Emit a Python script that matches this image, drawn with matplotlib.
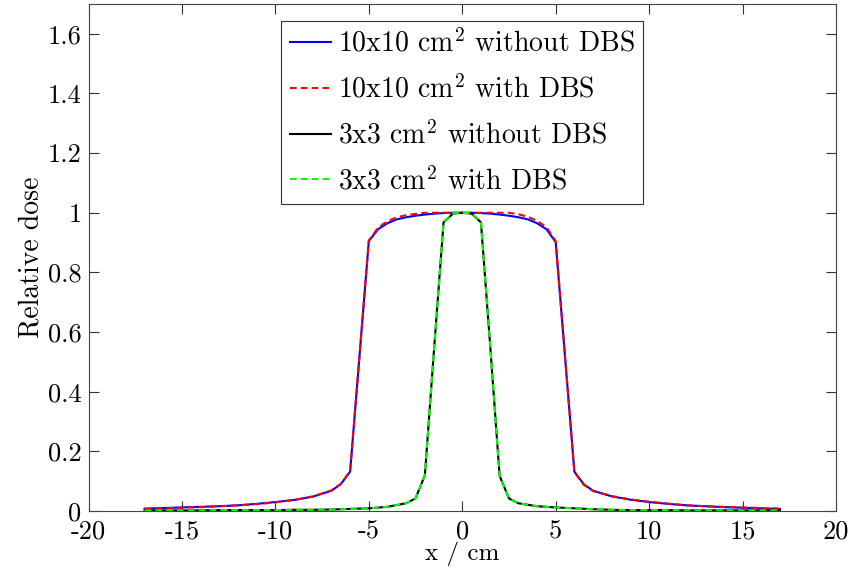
import matplotlib
matplotlib.use("Agg")
import matplotlib.pyplot as plt

plt.rcParams['font.family'] = ['cmr10', 'DejaVu Serif']
plt.rcParams['mathtext.fontset'] = 'cm'
plt.rcParams['axes.unicode_minus'] = False
plt.rcParams['axes.formatter.use_mathtext'] = False

# Lateral profiles, 10x10 cm^2 field
x_large = [-17, -16, -15, -14, -13, -12, -11, -10, -9, -8, -7, -6.5, -6, -5, -4.5, -4,
           -3.5, -3, -2.5, -2, -1.5, -1, -0.5, 0, 0.5, 1, 1.5, 2, 2.5, 3, 3.5, 4, 4.5,
           5, 6, 6.5, 7, 8, 9, 10, 11, 12, 13, 14, 15, 16, 17]
large_no_dbs = [0.008, 0.010, 0.012, 0.014, 0.016, 0.019, 0.024, 0.030, 0.037, 0.048,
                0.068, 0.090, 0.132, 0.905, 0.945, 0.965, 0.978, 0.985, 0.990, 0.994,
                0.997, 0.999, 1.000, 1.000, 1.000, 0.999, 0.997, 0.994, 0.990, 0.985,
                0.978, 0.965, 0.945, 0.902, 0.132, 0.090, 0.068, 0.049, 0.038, 0.030,
                0.024, 0.019, 0.016, 0.013, 0.011, 0.009, 0.007]
large_dbs = [0.007, 0.009, 0.011, 0.013, 0.016, 0.019, 0.023, 0.029, 0.037, 0.049,
             0.069, 0.091, 0.134, 0.907, 0.950, 0.972, 0.985, 0.992, 0.996, 1.000,
             1.000, 1.000, 1.000, 0.999, 1.000, 1.000, 1.000, 1.000, 1.000, 0.995,
             0.987, 0.973, 0.952, 0.905, 0.130, 0.088, 0.067, 0.050, 0.039, 0.031,
             0.025, 0.019, 0.016, 0.014, 0.012, 0.010, 0.008]

# Lateral profiles, 3x3 cm^2 field
x_small = [-17, -16, -15, -14, -13, -12, -11, -10, -9, -8, -7, -6, -5, -4, -3, -2.5,
           -2, -1.5, -1, -0.5, 0, 0.5, 1, 1.5, 2, 2.5, 3, 4, 5, 6, 7, 8, 9, 10, 11, 12,
           13, 14, 15, 16, 17]
small_no_dbs = [0.002, 0.002, 0.002, 0.002, 0.003, 0.003, 0.003, 0.003, 0.004, 0.004,
                0.005, 0.007, 0.009, 0.014, 0.026, 0.042, 0.120, 0.550, 0.968, 0.997,
                1.000, 0.997, 0.968, 0.550, 0.118, 0.042, 0.026, 0.016, 0.012, 0.009,
                0.006, 0.004, 0.003, 0.003, 0.003, 0.002, 0.002, 0.002, 0.002, 0.002,
                0.002]
small_dbs = [0.002, 0.002, 0.002, 0.002, 0.003, 0.003, 0.003, 0.003, 0.004, 0.004,
             0.005, 0.007, 0.009, 0.014, 0.026, 0.042, 0.121, 0.552, 0.969, 0.998,
             1.000, 0.998, 0.969, 0.552, 0.117, 0.042, 0.026, 0.016, 0.012, 0.009,
             0.006, 0.004, 0.003, 0.003, 0.003, 0.002, 0.002, 0.002, 0.002, 0.002,
             0.002]

labels = [r'10x10 cm$^2$ without DBS', r'10x10 cm$^2$ with DBS',
          r'3x3 cm$^2$ without DBS', r'3x3 cm$^2$ with DBS']

x_ticks = [-20, -15, -10, -5, 0, 5, 10, 15, 20]
y_ticks = [0, 0.2, 0.4, 0.6, 0.8, 1, 1.2, 1.4, 1.6]
y_ticklabels = ['0', '0.2', '0.4', '0.6', '0.8', '1', '1.2', '1.4', '1.6']

fig = plt.figure(figsize=(8.55, 5.74), dpi=100)
ax = fig.add_axes([88.5 / 855, 1 - 511 / 574, (836 - 88.5) / 855, (511 - 4) / 574])

lw = 1.5
dash = (3.2, 2.0)
ax.plot(x_large, large_no_dbs, color='#0000ff', lw=lw, label=labels[0])
ax.plot(x_large, large_dbs, color='#ff0000', lw=lw, ls='--', dashes=dash, label=labels[1])
ax.plot(x_small, small_no_dbs, color='#000000', lw=lw, label=labels[2])
ax.plot(x_small, small_dbs, color='#00ff00', lw=lw, ls='--', dashes=dash, label=labels[3])

ax.set_xlim(-20, 20)
ax.set_ylim(0, 1.7)
ax.set_xticks(x_ticks)
ax.set_xticklabels([str(v) for v in x_ticks])
ax.set_yticks(y_ticks)
ax.set_yticklabels(y_ticklabels)
ax.tick_params(direction='in', length=7, width=0.8, top=True, right=True,
               labelsize=19, colors='#333333', labelcolor='black')
ax.tick_params(axis='x', pad=6)
ax.tick_params(axis='y', pad=5)
for s in ax.spines.values():
    s.set_color('#444444')
    s.set_linewidth(0.8)

ax.set_xlabel('x / cm', fontsize=18, labelpad=-1)
ax.set_ylabel('Relative dose', fontsize=20, labelpad=2)

leg = ax.legend(loc='upper center', fontsize=20, frameon=True, fancybox=False,
                edgecolor='#333333', framealpha=1, handlelength=1.5,
                handletextpad=0.24, borderaxespad=0.6, labelspacing=0.62,
                borderpad=0.3)
leg.get_frame().set_linewidth(0.8)

fig.savefig('out.png', dpi=100)
